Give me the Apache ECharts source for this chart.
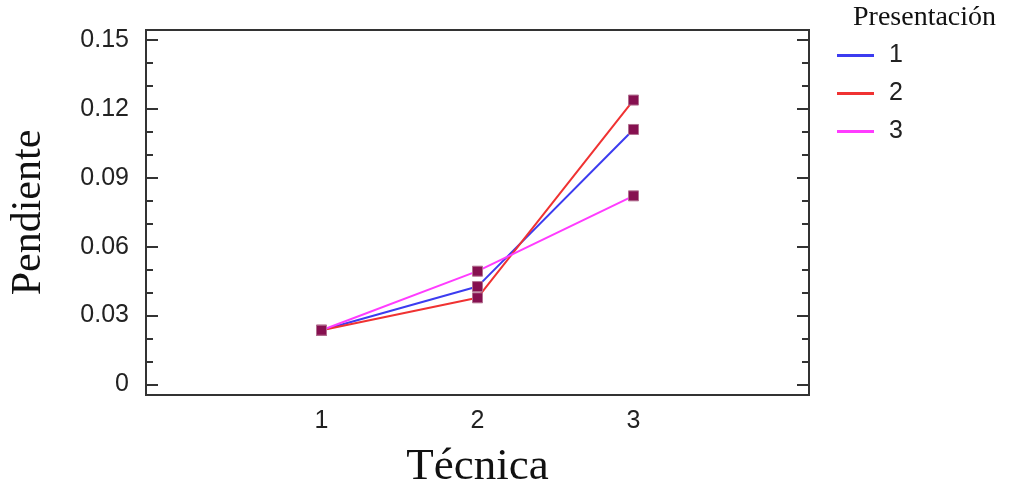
<!DOCTYPE html>
<html>
<head>
<meta charset="utf-8">
<script src="https://cdn.jsdelivr.net/npm/echarts@6/dist/echarts.min.js"></script>
<style>
  html, body { margin: 0; padding: 0; background: #fff; }
  #chart { width: 1011px; height: 495px; }
</style>
</head>
<body>
<div id="chart"></div>
<script>
// Técnica levels (x) and Pendiente per Presentación
let tecnica = [1, 2, 3];
let presentacion1 = [0.0236, 0.0426, 0.1110];
let presentacion2 = [0.0236, 0.0377, 0.1238];
let presentacion3 = [0.0236, 0.0493, 0.0821];
let seriesNames = ['1', '2', '3'];
let seriesColors = ['#3c3cf0', '#f03232', '#ff3cff'];
let yTicks = [0, 0.03, 0.06, 0.09, 0.12, 0.15];
let yMinorTicks = [0.01, 0.02, 0.04, 0.05, 0.07, 0.08, 0.10, 0.11, 0.13, 0.14];

function pairs(values) {
   return tecnica.map(function(t, i) { return [t, values[i]]; });
}

let yMin = -0.0046, yMax = 0.1543;
let tickColor = '#333';

function yAxis(position, values, len, showLabel) {
   return {
      type: 'value',
      position: position,
      min: yMin,
      max: yMax,
      axisLine: { show: false, onZero: false },
      splitLine: { show: false },
      axisTick: { show: true, inside: true, length: len, customValues: values,
                  lineStyle: { color: tickColor, width: 2 } },
      axisLabel: {
         show: showLabel,
         customValues: values,
         margin: 17,
         fontFamily: 'Liberation Sans, Arial, sans-serif',
         fontSize: 25,
         color: '#222',
         formatter: function(v) { return v === 0 ? '0' : v.toFixed(2); }
      }
   };
}

let left = yAxis('left', yTicks, 12, true);
left.name = 'Pendiente';
left.nameLocation = 'middle';
left.nameGap = 96;
left.nameTextStyle = { fontFamily: 'Liberation Serif, Times New Roman, serif', fontSize: 42, color: '#111' };

let option = {
   backgroundColor: '#fff',
   animation: false,
   grid: { left: 144, right: 202, top: 30, bottom: 98, show: true,
           borderColor: '#333', borderWidth: 2, backgroundColor: 'transparent' },
   xAxis: {
      type: 'value',
      min: -0.125,
      max: 4.125,
      name: 'Técnica',
      nameLocation: 'middle',
      nameGap: 50,
      nameTextStyle: { fontFamily: 'Liberation Serif, Times New Roman, serif', fontSize: 45, color: '#111' },
      axisLine: { show: false, onZero: false },
      splitLine: { show: false },
      axisTick: { show: false },
      axisLabel: {
         customValues: tecnica,
         margin: 14,
         fontFamily: 'Liberation Sans, Arial, sans-serif',
         fontSize: 25,
         color: '#222'
      }
   },
   yAxis: [
      left,
      yAxis('left', yMinorTicks, 7, false),
      yAxis('right', yTicks, 12, false),
      yAxis('right', yMinorTicks, 7, false)
   ],
   legend: {
      orient: 'vertical',
      left: 832,
      top: 38,
      icon: 'rect',
      itemWidth: 37,
      itemHeight: 3,
      itemGap: 13,
      data: seriesNames.map(function(n, i) {
         return { name: n, itemStyle: { color: seriesColors[i], borderWidth: 0 } };
      }),
      textStyle: { fontFamily: 'Liberation Sans, Arial, sans-serif', fontSize: 25, color: '#222', padding: [0, 0, 0, 10] }
   },
   graphic: [{
      type: 'text',
      left: 853,
      top: 4,
      style: { text: 'Presentación', font: '28px "Liberation Serif", "Times New Roman", serif', fill: '#111' }
   }],
   series: [presentacion1, presentacion2, presentacion3].map(function(values, i) {
      return {
         name: seriesNames[i],
         type: 'line',
         data: pairs(values),
         color: seriesColors[i],
         lineStyle: { width: 2, color: seriesColors[i] },
         symbol: 'rect',
         symbolSize: 10,
         itemStyle: { color: '#861050', borderColor: '#b27090', borderWidth: 1 },
         emphasis: { disabled: true }
      };
   })
};

let myChart = echarts.init(document.getElementById('chart'));
myChart.setOption(option);
</script>
</body>
</html>
